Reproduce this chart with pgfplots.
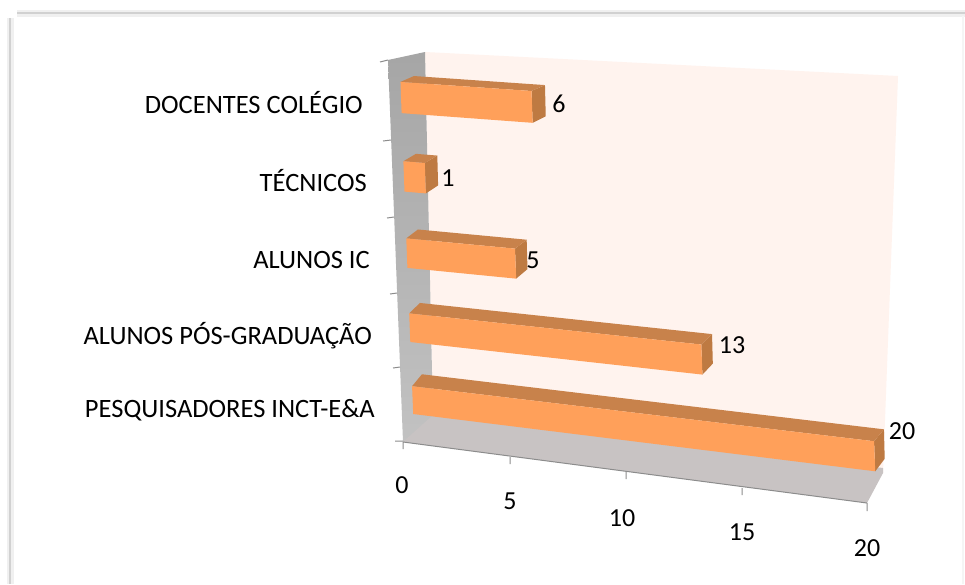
\documentclass[border=0pt]{standalone}
\usepackage{fontspec}
\setmainfont{Carlito}
\usepackage{pgfplots}
\usepackage{pgfplotstable}
\pgfplotsset{compat=1.18}

\definecolor{barfront}{HTML}{FFA05A}
\definecolor{bartop}{HTML}{C8824B}
\definecolor{barside}{HTML}{BE7A42}
\definecolor{backwall}{HTML}{FFF3EE}
\definecolor{floorcol}{HTML}{C8C3C3}
\definecolor{tickcol}{HTML}{8C8C8C}

% projection of the 3-D bars: value, row height, depth -> picture pixels
\pgfmathdeclarefunction{valx}{1}{\pgfmathparse{21.3*#1+0.09*#1*#1}}
\pgfmathdeclarefunction{barx}{3}{\pgfmathparse{413.2-2.9*#2+valx(#1)+#3*(9.5+0.9*#2)}}
\pgfmathdeclarefunction{bary}{3}{\pgfmathparse{414-70.9*#2-1.08*#2*#2+(0.124-0.0125*#2)*valx(#1)+#3*(-12.5+1.5*#2)}}

% u = value, r = row, s = 0/1 bottom/top of bar, d = 0/1 front/back of bar
\pgfplotsset{
  barface/.style={draw=none, forget plot},
  persp/.style={/pgfplots/table/row sep=\\,
    /pgfplots/table/x expr={barx(\thisrow{u},\thisrow{r}+0.39*\thisrow{s},\thisrow{d})},
    /pgfplots/table/y expr={bary(\thisrow{u},\thisrow{r}+0.39*\thisrow{s},\thisrow{d})}},
}
\newcommand{\hbarbox}[2]{%
  \addplot[barface, fill=barside] table[persp] {u r s d\\ #1 #2 0 0\\ #1 #2 1 0\\ #1 #2 1 1\\ #1 #2 0 1\\} -- cycle;
  \addplot[barface, fill=bartop] table[persp] {u r s d\\ 0 #2 1 0\\ #1 #2 1 0\\ #1 #2 1 1\\ 0 #2 1 1\\} -- cycle;
  \addplot[barface, fill=barfront] table[persp] {u r s d\\ 0 #2 0 0\\ #1 #2 0 0\\ #1 #2 1 0\\ 0 #2 1 0\\} -- cycle;
}

\begin{document}
\begin{tikzpicture}
\begin{axis}[
  x=1pt, y=1pt, xmin=0, xmax=965, ymin=0, ymax=584,
  y dir=reverse, hide axis, clip=true,
  /pgf/number format/assume math mode=true,
]
% page
\addplot[fill=white, draw=none, forget plot] coordinates {(0,0)(965,0)(965,584)(0,584)} -- cycle;
% chart frame, soft like the screenshot
\addplot[draw=black!6, line width=7pt, forget plot] coordinates {(10,584)(10,18)};
\addplot[draw=black!6, line width=7pt, forget plot] coordinates {(17,13)(965,13)};
\addplot[draw=black!18, line width=2.5pt, forget plot] coordinates {(10,584)(10,18)};
\addplot[draw=black!18, line width=2.5pt, forget plot] coordinates {(17,13)(965,13)};
\addplot[draw=black!4, line width=1.5pt, forget plot] coordinates {(963,16)(963,584)};

% walls and floor
\addplot[fill=backwall, draw=none, forget plot] coordinates {(425,52)(898,76)(883,473)(433,418)} -- cycle;
\addplot[top color=black!35, bottom color=black!24, draw=none, forget plot] coordinates {(388,60)(425,52)(433,418)(403,442)} -- cycle;
\addplot[fill=floorcol, draw=none, forget plot] coordinates {(403,442)(433,415)(883,468)(883,473)(867,503)} -- cycle;

% axis ticks
\addplot[draw=tickcol, line width=1pt, unbounded coords=jump, forget plot] coordinates {
  (380,62)(388,60) (nan,nan) (383,141)(391,140) (nan,nan) (387,218)(394,217)
  (nan,nan) (390,294)(397,293) (nan,nan) (393,368)(400,367) (nan,nan) (395,441)(403,441)
  (nan,nan) (403,442)(867,503)
  (nan,nan) (403,442)(403,449) (nan,nan) (510,457)(510,464) (nan,nan) (626,472)(626,479)
  (nan,nan) (742,488)(742,495) (nan,nan) (867,503)(867,511)
};

% bars: value, row
\hbarbox{20}{0}
\hbarbox{13}{1}
\hbarbox{5}{2}
\hbarbox{1}{3}
\hbarbox{6}{4}

% value labels, at their place in the picture
\addplot[draw=none, forget plot, nodes near coords, point meta=explicit,
  every node near coord/.append style={anchor=center, font=\fontsize{26}{30}\selectfont, inner sep=0pt},
  nodes near coords align={center}]
  table[meta=v] {
  x y v
  902 431 20
  732 345 13
  533 260 5
  448 178 1
  559 104 6
};

% category labels
\begin{scope}[every node/.style={font=\fontsize{26.5}{30}\selectfont, anchor=base east, inner sep=0pt}]
\node at (axis cs:375,417) {PESQUISADORES INCT-E\&A};
\node at (axis cs:372,344) {ALUNOS PÓS-GRADUAÇÃO};
\node at (axis cs:370,268) {ALUNOS IC};
\node at (axis cs:367,191) {TÉCNICOS};
\node at (axis cs:363,113) {DOCENTES COLÉGIO};
\end{scope}
% value axis numbers
\begin{scope}[every node/.style={font=\fontsize{26}{30}\selectfont, anchor=center, inner sep=0pt}]
\node at (axis cs:402,485) {0};
\node at (axis cs:510,501) {5};
\node at (axis cs:622,518) {10};
\node at (axis cs:742,532) {15};
\node at (axis cs:867,548) {20};
\end{scope}
\end{axis}
\end{tikzpicture}
\end{document}
